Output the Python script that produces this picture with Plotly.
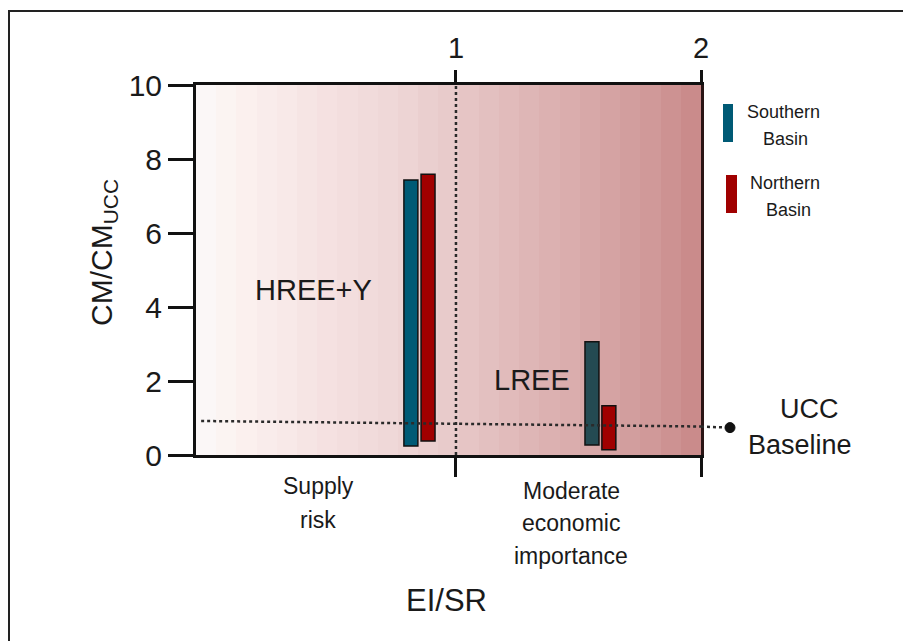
import numpy as np
import plotly.graph_objects as go

# ---------------- data ----------------
categories = ["HREE+Y", "LREE"]
southern_pos = [0.816, 1.555]      # EI/SR position of Southern Basin bars
northern_pos = [0.886, 1.624]      # EI/SR position of Northern Basin bars
southern_low = [0.24, 0.27]
southern_high = [7.43, 3.06]
northern_low = [0.38, 0.14]
northern_high = [7.59, 1.33]
southern_colors = ["#005a75", "#244a52"]
northern_colors = ["#a00000", "#a00000"]

ucc_x = [-0.04, 2.0]
ucc_y = [0.92, 0.77]
ucc_end_y = [0.74]

x_ticks = [1, 2]
y_ticks = [0, 2, 4, 6, 8, 10]
X_MIN, X_MAX = -0.061, 2.0

# ---------------- layout helpers ----------------
FONT = "Liberation Sans, Arial, sans-serif"
L, T, W, H = 196, 85, 505, 370


def px(x):
    return (x - L) / W


def py(y):
    return (T + H - y) / H


fig = go.Figure()

# background gradient (stepped bands)
n_bands = 25
edges = np.linspace(X_MIN, X_MAX, n_bands + 1)
centers = (edges[:-1] + edges[1:]) / 2
colorscale = [
    [0.0, "#fbf9f9"], [0.1, "#fbf0ee"], [0.25, "#f5e2e2"], [0.4, "#eed6d6"],
    [0.5, "#e8cbcb"], [0.6, "#e2bdbd"], [0.7, "#dcb1b1"], [0.8, "#d6a6a6"],
    [0.9, "#d09999"], [1.0, "#c88787"],
]
fig.add_trace(go.Heatmap(
    x=edges, y=[0, 10], z=[centers], colorscale=colorscale,
    zmin=X_MIN, zmax=X_MAX, showscale=False, hoverinfo="skip",
))

# floating bars
fig.add_trace(go.Bar(
    x=southern_pos, y=np.array(southern_high) - np.array(southern_low),
    base=southern_low, width=0.057, name="Southern Basin",
    marker=dict(color=southern_colors, line=dict(color="#111", width=1.5)),
    showlegend=False,
))
fig.add_trace(go.Bar(
    x=northern_pos, y=np.array(northern_high) - np.array(northern_low),
    base=northern_low, width=0.057, name="Northern Basin",
    marker=dict(color=northern_colors, line=dict(color="#111", width=1.5)),
    showlegend=False,
))

# vertical divider at EI/SR = 1
fig.add_trace(go.Scatter(
    x=[1, 1], y=[0, 10], mode="lines",
    line=dict(color="#2a2a2a", width=2.5, dash="dot"),
    showlegend=False, hoverinfo="skip",
))

# UCC baseline
fig.add_trace(go.Scatter(
    x=ucc_x, y=ucc_y, mode="lines",
    line=dict(color="#2a2a2a", width=2.5, dash="dot"),
    showlegend=False, hoverinfo="skip",
))

shapes = [
    # extension of baseline outside plot area
    dict(type="line", xref="x domain", yref="y", x0=1.0, x1=px(728),
         y0=ucc_y[-1], y1=ucc_end_y[0],
         line=dict(color="#2a2a2a", width=2.5, dash="dot")),
    # end dot of the baseline
    dict(type="circle", xref="x domain", yref="y", xsizemode="pixel",
         ysizemode="pixel", xanchor=px(730), yanchor=ucc_end_y[0],
         x0=-5, x1=5, y0=-5, y1=5, fillcolor="#111",
         line=dict(color="#111", width=1)),
    # outer frame
    dict(type="rect", xref="paper", yref="paper", x0=px(9), x1=1.6,
         y0=-0.7, y1=py(11), line=dict(color="#222", width=2)),
    # legend swatches
    dict(type="rect", xref="paper", yref="paper", x0=px(723), x1=px(733),
         y0=py(142), y1=py(104), fillcolor="#005a75",
         line=dict(color="#005a75", width=0)),
    dict(type="rect", xref="paper", yref="paper", x0=px(726), x1=px(737),
         y0=py(213), y1=py(175), fillcolor="#a00000",
         line=dict(color="#a00000", width=0)),
]


def ann(text, x, y, size, **kw):
    d = dict(text=text, x=px(x), y=py(y), xref="paper", yref="paper",
             showarrow=False, xanchor="center", yanchor="middle",
             font=dict(family=FONT, size=size, color="#1a1a1a"))
    d.update(kw)
    return d


annotations = [
    ann(categories[0], 313, 290, 29),
    ann(categories[1], 532, 380, 29),
    ann("UCC", 809, 409, 27),
    ann("Baseline", 800, 445, 27),
    ann("Supply", 318, 486, 23),
    ann("risk", 318, 520, 23),
    ann("Moderate", 571, 491, 23),
    ann("economic", 571, 523, 23),
    ann("importance", 571, 556, 23),
    ann("EI/SR", 446, 600, 31),
    ann("Southern", 783, 112, 18),
    ann("Basin", 785, 139, 18),
    ann("Northern", 785, 183, 18),
    ann("Basin", 788, 210, 18),
    ann("CM/CM<sub>UCC</sub>", 103, 253, 30, textangle=-90),
]

fig.update_layout(
    width=903, height=641,
    margin=dict(l=L, r=903 - L - W, t=T, b=641 - T - H),
    paper_bgcolor="white", plot_bgcolor="white",
    barmode="overlay",
    font=dict(family=FONT, color="#1a1a1a"),
    shapes=shapes, annotations=annotations,
    xaxis=dict(range=[X_MIN, X_MAX], tickvals=x_ticks, showticklabels=False,
               ticks="outside", ticklen=19, tickwidth=3, tickcolor="#111",
               showline=True, linecolor="#111", linewidth=3,
               showgrid=False, zeroline=False),
    xaxis2=dict(range=[X_MIN, X_MAX], overlaying="x", side="top",
                tickvals=x_ticks, ticktext=[str(v) for v in x_ticks],
                ticks="outside", ticklen=12, tickwidth=3, tickcolor="#111",
                tickfont=dict(size=29, family=FONT, color="#1a1a1a"),
                showline=True, linecolor="#111", linewidth=3,
                showgrid=False, zeroline=False),
    yaxis=dict(range=[0, 10], tickvals=y_ticks,
               ticks="outside", ticklen=25, tickwidth=3, tickcolor="#111",
               tickfont=dict(size=30, family=FONT, color="#1a1a1a"),
               showline=True, linecolor="#111", linewidth=3,
               showgrid=False, zeroline=False),
    yaxis2=dict(range=[0, 10], overlaying="y", side="right",
                showticklabels=False, ticks="",
                showline=True, linecolor="#2a1515", linewidth=3,
                showgrid=False, zeroline=False),
)

# invisible trace to activate top x-axis and right y-axis
fig.add_trace(go.Scatter(x=[X_MIN], y=[0], xaxis="x2", yaxis="y2", mode="markers",
                         marker=dict(opacity=0), showlegend=False, hoverinfo="skip"))

fig.write_html("out.html")
